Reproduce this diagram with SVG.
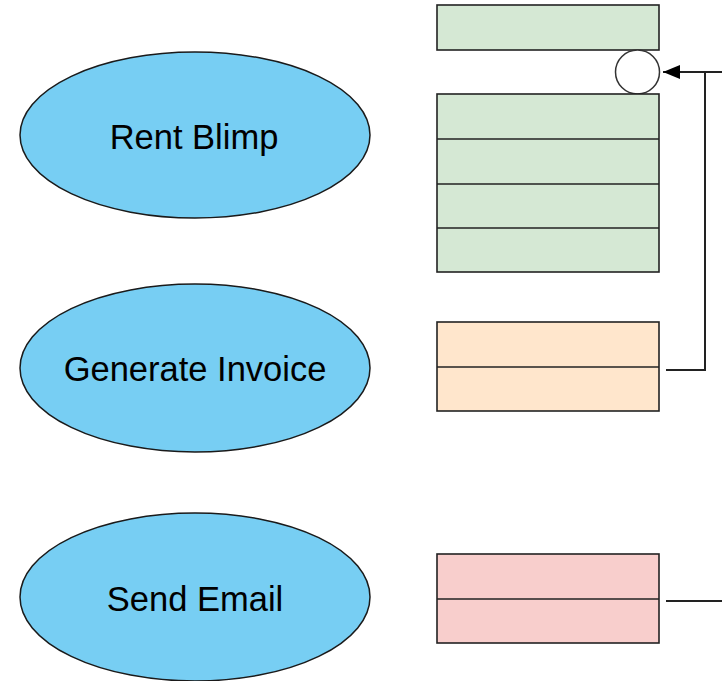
<svg xmlns="http://www.w3.org/2000/svg" width="722" height="681" viewBox="0 0 722 681">
<style>
.uc{fill:#77cef3;stroke:#1a1a1a;stroke-width:1.5}
.lbl{font-family:"Liberation Sans",Arial,sans-serif;font-size:34.5px;fill:#000;text-anchor:middle}
.box{stroke:#222;stroke-width:1.6}
.g{fill:#d5e8d4}.o{fill:#ffe6cc}.p{fill:#f8cecc}
.ln{fill:none;stroke:#222;stroke-width:2}
</style>
<defs>
<marker id="arr" markerWidth="18" markerHeight="16" refX="17" refY="8" orient="auto" markerUnits="userSpaceOnUse">
<path d="M0,1 L17,8 L0,15 Z" fill="#000"/>
</marker>
</defs>
<rect width="722" height="681" fill="#fff"/>
<g id="rent-blimp">
<ellipse class="uc" cx="195" cy="135" rx="175" ry="83"/>
<text class="lbl" x="194" y="149">Rent Blimp</text>
</g>
<g id="generate-invoice">
<ellipse class="uc" cx="195" cy="368" rx="175" ry="84"/>
<text class="lbl" x="195" y="381">Generate Invoice</text>
</g>
<g id="send-email">
<ellipse class="uc" cx="195" cy="597" rx="175" ry="84"/>
<text class="lbl" x="195" y="611">Send Email</text>
</g>
<g id="green-top">
<rect class="box g" x="437" y="5" width="222" height="45"/>
</g>
<g id="interface-circle">
<circle cx="637.5" cy="72" r="22" fill="#fff" stroke="#333" stroke-width="1.5"/>
</g>
<g id="green-stack">
<rect class="box g" x="437" y="94" width="222" height="178"/>
<line class="box" x1="437" y1="139" x2="659" y2="139"/>
<line class="box" x1="437" y1="184" x2="659" y2="184"/>
<line class="box" x1="437" y1="228" x2="659" y2="228"/>
</g>
<g id="orange-box">
<rect class="box o" x="437" y="322" width="222" height="89"/>
<line class="box" x1="437" y1="367" x2="659" y2="367"/>
</g>
<g id="pink-box">
<rect class="box p" x="437" y="554" width="222" height="89"/>
<line class="box" x1="437" y1="599" x2="659" y2="599"/>
</g>
<g id="connectors">
<path class="ln" d="M722,72 L663,72" marker-end="url(#arr)"/>
<path class="ln" d="M666,370 L705,370 L705,72"/>
<path class="ln" d="M666,601 L722,601"/>
</g>
</svg>
